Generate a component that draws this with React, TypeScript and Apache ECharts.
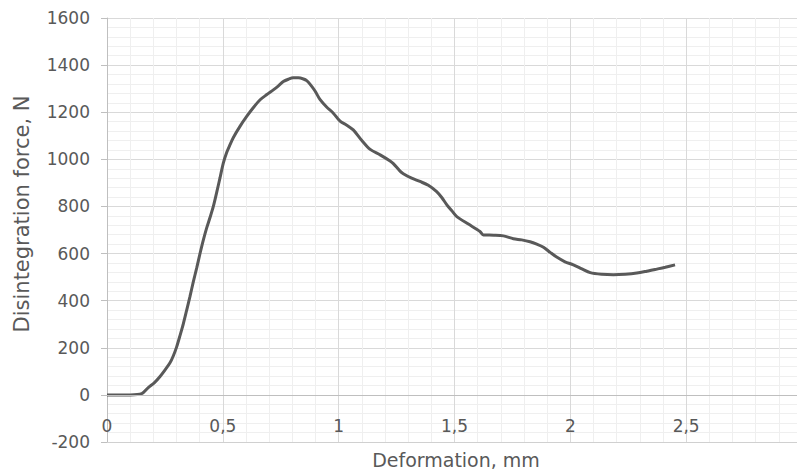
import React, { useEffect, useRef } from "react";
import * as echarts from "echarts";

const deformation = [
  0, 0.05, 0.1, 0.15, 0.177, 0.205, 0.229, 0.25, 0.272, 0.286, 0.301, 0.316, 0.33, 0.344, 0.358,
  0.373, 0.387, 0.401, 0.416, 0.43, 0.445, 0.459, 0.474, 0.488, 0.502, 0.517, 0.531, 0.545, 0.574,
  0.603, 0.632, 0.661, 0.69, 0.718, 0.74, 0.761, 0.783, 0.804, 0.826, 0.848, 0.862, 0.877, 0.898,
  0.92, 0.948, 0.977, 1.006, 1.035, 1.063, 1.1, 1.136, 1.179, 1.222, 1.236, 1.265, 1.279, 1.315,
  1.351, 1.387, 1.423, 1.445, 1.467, 1.49, 1.51, 1.56, 1.61, 1.625, 1.67, 1.711, 1.754, 1.79, 1.826,
  1.855, 1.884, 1.913, 1.941, 1.977, 2.013, 2.05, 2.086, 2.136, 2.186, 2.237, 2.287, 2.33, 2.373,
  2.41, 2.452,
];
const force = [
  0, 0, 0, 5, 30, 52, 78, 105, 136, 165, 205, 255, 304, 360, 417,
  482, 538, 598, 658, 708, 754, 800, 862, 922, 984, 1030, 1062, 1092, 1140,
  1182, 1220, 1253, 1275, 1295, 1312, 1330, 1340, 1346, 1346, 1341, 1334, 1318, 1290,
  1253, 1222, 1196, 1162, 1145, 1125, 1080, 1042, 1019, 993, 982, 950, 939, 920,
  906, 890, 863, 838, 807, 780, 757, 725, 694, 679, 678, 675, 663, 658, 650,
  640, 627, 605, 585, 565, 552, 535, 519, 512, 510, 512, 517, 525, 534,
  542, 552,
];

const xTitle = "Deformation, mm";
const yTitle = "Disintegration force, N";

export default function App() {
  const ref = useRef<HTMLDivElement>(null);
  useEffect(() => {
    if (!ref.current) return;
    const chart = echarts.init(ref.current, undefined, { renderer: "svg" });
    const font = "'DejaVu Sans', sans-serif";
    chart.setOption({
      animation: false,
      backgroundColor: "#ffffff",
      grid: {
        left: 107,
        top: 18,
        right: -5,
        bottom: 28,
        containLabel: false,
        outerBoundsMode: "none",
      },
      xAxis: {
        type: "value",
        min: 0,
        max: 3,
        interval: 0.5,
        axisLine: { show: true, onZero: false, lineStyle: { color: "#d0d0d0", width: 1 } },
        axisTick: { show: false },
        axisLabel: {
          inside: true,
          margin: 8,
          color: "#595959",
          fontFamily: font,
          fontSize: 17,
          showMaxLabel: false,
          formatter: (v: number) => String(v).replace(".", ","),
        },
        splitLine: { show: true, lineStyle: { color: "#d9d9d9", width: 1 } },
        minorTick: { show: true, splitNumber: 5, length: 0, lineStyle: { opacity: 0 } },
        minorSplitLine: { show: true, lineStyle: { color: "#efefef", width: 1 } },
      },
      yAxis: {
        type: "value",
        min: -200,
        max: 1600,
        interval: 200,
        axisLine: { show: true, lineStyle: { color: "#bfbfbf", width: 1 } },
        axisTick: { show: true, length: 6, lineStyle: { color: "#bfbfbf" } },
        axisLabel: {
          margin: 17,
          color: "#595959",
          fontFamily: font,
          fontSize: 17,
          formatter: (v: number) => String(v),
        },
        splitLine: { show: true, lineStyle: { color: "#d9d9d9", width: 1 } },
        minorTick: { show: true, splitNumber: 5, length: 0, lineStyle: { opacity: 0 } },
        minorSplitLine: { show: true, lineStyle: { color: "#efefef", width: 1 } },
      },
      graphic: [
        {
          type: "text",
          x: 456,
          y: 460,
          style: {
            text: xTitle,
            fill: "#595959",
            font: `19px ${font}`,
            textAlign: "center",
            textVerticalAlign: "middle",
          },
        },
        {
          type: "text",
          x: 22,
          y: 214,
          rotation: Math.PI / 2,
          style: {
            text: yTitle,
            fill: "#595959",
            font: `21px ${font}`,
            textAlign: "center",
            textVerticalAlign: "middle",
          },
        },
      ],
      series: [
        {
          type: "line",
          data: deformation.map((x, i) => [x, force[i]]),
          showSymbol: false,
          smooth: 0.3,
          lineStyle: { color: "#595959", width: 3 },
          markLine: {
            silent: true,
            symbol: "none",
            label: { show: false },
            lineStyle: { color: "#bfbfbf", width: 1, type: "solid" },
            data: [{ yAxis: 0 }],
          },
          z: 3,
        },
      ],
    });
    return () => chart.dispose();
  }, []);
  return <div ref={ref} style={{ width: 797, height: 470, position: "absolute", left: 0, top: 0 }} />;
}
